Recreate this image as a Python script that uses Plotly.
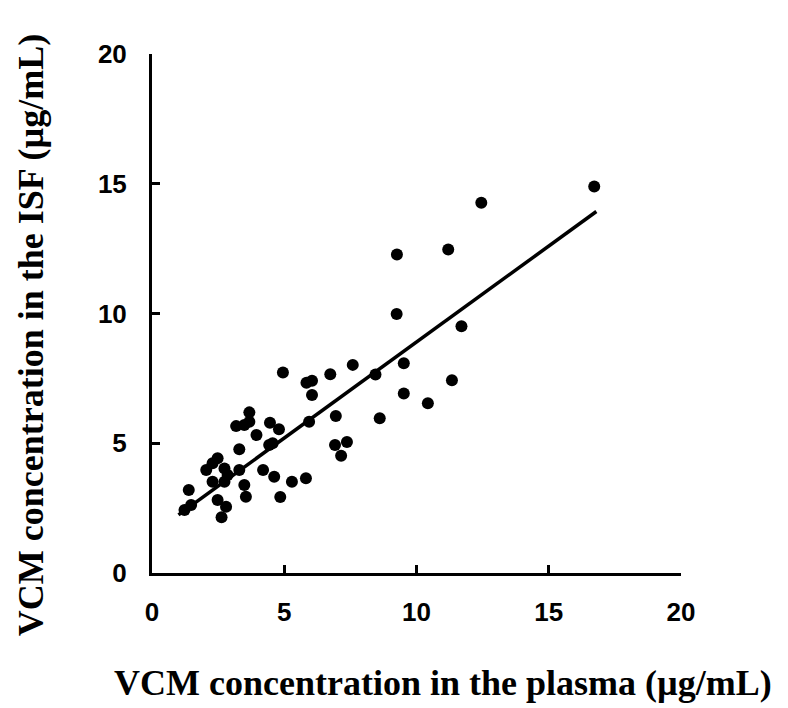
import plotly.graph_objects as go

# VCM concentrations (µg/mL)
plasma = [16.72, 12.45, 11.2, 9.26, 9.25, 11.7, 9.52, 8.45, 11.34, 9.52,
          10.43, 8.61, 4.95, 7.59, 6.74, 5.84, 6.05, 6.05, 6.95, 5.94,
          4.46, 4.8, 3.95, 4.56, 4.43, 6.92, 7.37, 7.15, 4.2, 4.62,
          5.29, 5.82, 4.85, 3.68, 3.18, 3.49, 3.68, 3.3, 3.3, 2.48,
          2.05, 2.29, 2.74, 2.86, 2.29, 2.74, 3.49, 3.55, 1.39, 1.23,
          1.48, 2.48, 2.8, 2.63]
isf = [14.89, 14.27, 12.47, 12.27, 9.98, 9.51, 8.08, 7.65, 7.43, 6.92,
       6.54, 5.96, 7.73, 8.02, 7.66, 7.33, 7.41, 6.86, 6.05, 5.83,
       5.79, 5.54, 5.32, 5.0, 4.93, 4.93, 5.05, 4.52, 3.97, 3.71,
       3.52, 3.65, 2.93, 6.19, 5.66, 5.7, 5.83, 4.77, 3.97, 4.42,
       3.97, 4.23, 4.03, 3.78, 3.52, 3.52, 3.39, 2.94, 3.2, 2.43,
       2.62, 2.81, 2.55, 2.15]

# regression line endpoints
fit_x = [1.0, 16.8]
fit_y = [2.24, 13.93]

ticks = [0, 5, 10, 15, 20]

fig = go.Figure()
fig.add_trace(go.Scatter(x=fit_x, y=fit_y, mode="lines",
                         line=dict(color="black", width=3.5), hoverinfo="skip"))
fig.add_trace(go.Scatter(x=plasma, y=isf, mode="markers",
                         marker=dict(color="black", size=12)))

axis_style = dict(range=[0, 20], tickvals=ticks, showgrid=False, zeroline=False,
                  showline=True, linecolor="black", linewidth=3,
                  ticks="inside", ticklen=8, tickwidth=3, tickcolor="black",
                  tickfont=dict(family="Liberation Sans", size=26, color="black",
                                weight="bold"))
fig.update_xaxes(ticklabelstandoff=14, **axis_style)
fig.update_yaxes(ticklabelstandoff=17, **axis_style)

title_font = dict(family="Liberation Serif", size=36, color="black", weight="bold")
fig.add_annotation(text="VCM concentration in the plasma (µg/mL)",
                   xref="paper", yref="paper", x=0.55, y=-0.211,
                   xanchor="center", yanchor="middle", showarrow=False, font=title_font)
fig.add_annotation(text="VCM concentration in the ISF (µg/mL)",
                   xref="paper", yref="paper", x=-0.229, y=0.458, textangle=-90,
                   xanchor="center", yanchor="middle", showarrow=False, font=title_font)

# the page adds an 8px body margin, so the margins are trimmed to match
fig.update_layout(width=788, height=708, showlegend=False,
                  plot_bgcolor="white", paper_bgcolor="white",
                  margin=dict(l=144, r=115, t=46, b=143))
fig.write_html("out.html")
